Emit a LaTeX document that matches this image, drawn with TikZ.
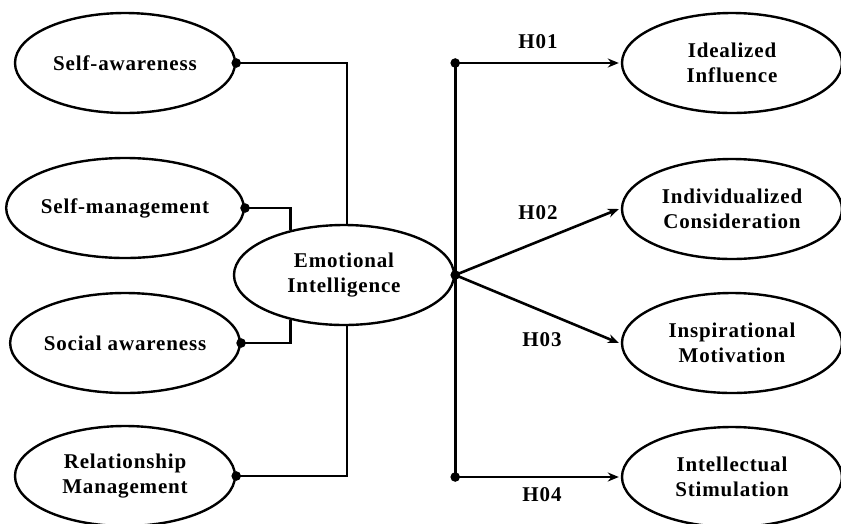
\documentclass[tikz,border=0pt]{standalone}
\usepackage{fontspec}
\setmainfont{Liberation Serif}[LetterSpace=4]
\usetikzlibrary{shapes.geometric,arrows.meta}
\begin{document}
\begin{tikzpicture}[x=1pt,y=-1pt,
  oval/.style={ellipse,draw,line width=2.4pt,minimum width=220pt,minimum height=100pt,inner sep=0pt,
    align=center,font=\fontsize{21}{25}\selectfont\bfseries},
  conn/.style={line width=2.6pt},
  arr/.style={line width=2.6pt,-{Stealth[length=11pt,width=9pt]}},
  hlbl/.style={font=\fontsize{21}{25}\selectfont\bfseries,inner sep=0pt}]
\useasboundingbox (0,0) rectangle (841,523);
\node[oval] (sa) at (125,63) {Self-awareness};
\node[oval] (sm) at (125,208) {Self-management};
\node[oval] (soc) at (125,343) {Social awareness};
\node[oval] (rm) at (125,476) {Relationship\\Management};
\node[oval] (ei) at (344,275) {Emotional\\Intelligence};
\node[oval] (ii) at (732,63) {Idealized\\Influence};
\node[oval] (ic) at (732,209) {Individualized\\Consideration};
\node[oval] (im) at (732,343) {Inspirational\\Motivation};
\node[oval] (is) at (732,477) {Intellectual\\Stimulation};
% left connectors
\draw[conn] (sa.east) -| ([xshift=3pt]ei.north);
\draw[conn] (sm.east) -| (ei.140);
\draw[conn] (soc.east) -| (ei.220);
\draw[conn] (rm.east) -| ([xshift=3pt]ei.south);
\foreach \n in {sa,sm,soc,rm} \fill (\n.east) circle (4.8pt);
% right connectors
\coordinate (hub) at (ei.east);
\coordinate (top) at (hub |- ii.west);
\coordinate (bot) at (hub |- is.west);
\draw[conn] (top) -- (bot);
\draw[arr] (top) -- ([xshift=-2pt]ii.west);
\draw[arr] (hub) -- ([xshift=-2pt]ic.west);
\draw[arr] (hub) -- ([xshift=-2pt]im.west);
\draw[arr] (bot) -- ([xshift=-2pt]is.west);
\fill (top) circle (4.8pt);
\fill (hub) circle (4.8pt);
\fill (bot) circle (4.8pt);
\node[hlbl] (h1) at (538,42) {H01};
\node[hlbl] (h2) at (538,213) {H02};
\node[hlbl] (h3) at (542,340) {H03};
\node[hlbl] (h4) at (542,495) {H04};
\end{tikzpicture}
\end{document}
